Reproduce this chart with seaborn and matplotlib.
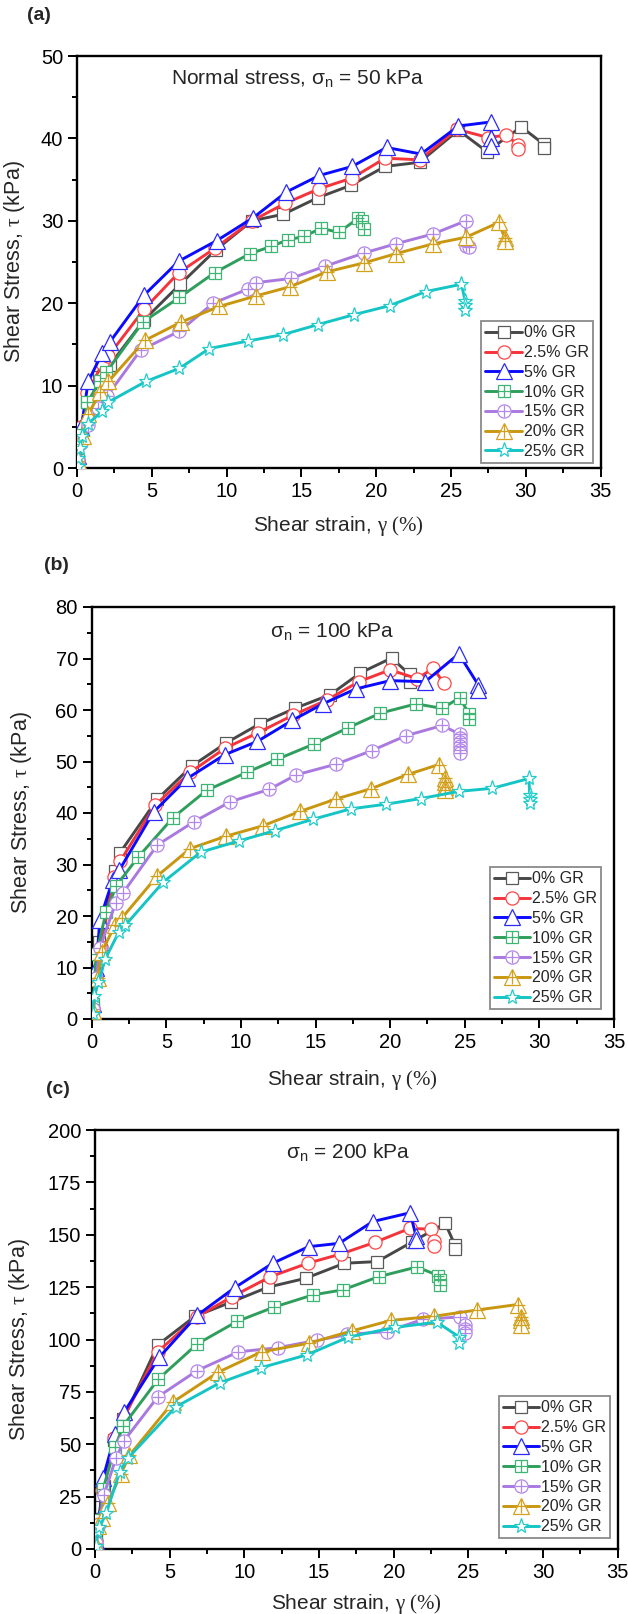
import matplotlib
matplotlib.use("Agg")
import matplotlib.pyplot as plt
from matplotlib.ticker import MultipleLocator
from matplotlib.lines import Line2D
import seaborn as sns

sns.set_theme(style="ticks")
plt.rcParams["font.family"] = ["Liberation Sans", "DejaVu Sans"]
plt.rcParams["mathtext.fontset"] = "custom"
plt.rcParams["mathtext.rm"] = "Liberation Serif"
plt.rcParams["mathtext.sf"] = "Liberation Sans"
plt.rcParams["mathtext.it"] = "Liberation Serif:italic"

# ---------------- data ----------------
labels = ["0% GR", "2.5% GR", "5% GR", "10% GR", "15% GR", "20% GR", "25% GR"]

# panel (a) : sigma_n = 50 kPa
a_x_0 = [0.1, 0.3, 0.7, 1.5, 2.2, 4.5, 6.9, 9.3, 11.7, 13.8, 16.1, 18.3, 20.6, 22.9, 25.5, 27.4, 29.7, 31.2, 31.2]
a_y_0 = [1.0, 4.0, 8.0, 11.0, 12.5, 18.0, 22.3, 26.5, 30.0, 30.8, 32.8, 34.3, 36.6, 37.1, 41.0, 38.4, 41.4, 39.3, 38.8]
a_x_1 = [0.1, 0.3, 0.7, 1.7, 2.1, 4.5, 6.8, 9.25, 11.7, 13.9, 16.2, 18.4, 20.6, 22.9, 25.4, 27.5, 28.7, 29.5, 29.5]
a_y_1 = [1.0, 5.0, 9.1, 12.7, 13.6, 19.3, 23.7, 26.7, 30.0, 32.1, 33.9, 35.2, 37.6, 37.4, 41.1, 40.1, 40.4, 39.2, 38.7]
a_x_2 = [0.1, 0.3, 0.75, 1.7, 2.2, 4.5, 6.8, 9.35, 11.8, 14.0, 16.2, 18.4, 20.7, 23.0, 25.5, 27.7, 27.7, 27.7]
a_y_2 = [1.5, 5.0, 10.5, 14.0, 15.3, 21.0, 25.1, 27.6, 30.4, 33.5, 35.5, 36.6, 38.9, 38.1, 41.5, 42.0, 40.0, 39.1]
a_x_3 = [0.1, 0.3, 0.7, 1.55, 1.95, 4.4, 6.85, 9.2, 11.55, 13.0, 14.1, 15.2, 16.3, 17.5, 18.8, 19.05, 19.2]
a_y_3 = [1.0, 4.0, 8.0, 10.6, 11.6, 17.7, 20.7, 23.7, 26.0, 26.9, 27.7, 28.1, 29.1, 28.6, 30.3, 30.0, 29.0]
a_x_4 = [0.1, 0.3, 0.75, 1.4, 2.0, 4.25, 6.85, 9.1, 11.4, 12.0, 14.3, 16.6, 19.2, 21.3, 23.8, 26.0, 26.0, 26.2]
a_y_4 = [0.8, 3.0, 5.2, 7.3, 8.7, 14.3, 16.6, 20.0, 21.7, 22.5, 23.0, 24.5, 26.1, 27.2, 28.4, 30.0, 26.9, 26.8]
a_x_5 = [0.1, 0.4, 0.75, 1.55, 2.1, 4.55, 6.95, 9.5, 12.0, 14.25, 16.7, 19.2, 21.3, 23.8, 26.0, 28.2, 28.6, 28.6]
a_y_5 = [0.8, 3.9, 6.5, 9.2, 10.5, 15.5, 17.7, 19.6, 20.9, 22.0, 23.8, 24.9, 26.0, 27.2, 28.0, 29.8, 27.9, 27.5]
a_x_6 = [0.05, 0.1, 0.2, 0.35, 0.75, 1.7, 2.1, 4.6, 6.85, 8.85, 11.4, 13.8, 16.1, 18.5, 20.9, 23.3, 25.7, 25.95, 25.95, 25.95]
a_y_6 = [0.3, 1.2, 2.4, 3.9, 5.4, 6.9, 8.0, 10.5, 12.1, 14.5, 15.4, 16.2, 17.4, 18.6, 19.7, 21.4, 22.3, 20.3, 19.8, 19.2]

# panel (b) : sigma_n = 100 kPa
b_x_0 = [0.1, 0.3, 0.5, 1.55, 1.9, 4.4, 6.7, 9.0, 11.25, 13.6, 16.0, 18.0, 20.1, 21.3, 21.3]
b_y_0 = [2.0, 9.0, 15.0, 28.7, 32.3, 42.7, 49.1, 53.6, 57.3, 60.3, 63.0, 67.2, 70.1, 66.9, 65.5]
b_x_1 = [0.1, 0.3, 0.6, 1.5, 1.9, 4.25, 6.6, 8.95, 11.15, 13.5, 15.8, 17.9, 20.0, 21.8, 22.9, 23.6]
b_y_1 = [2.0, 8.0, 14.0, 27.6, 30.6, 41.5, 47.9, 52.6, 55.6, 59.0, 62.0, 65.5, 67.8, 66.1, 68.1, 65.2]
b_x_2 = [0.1, 0.3, 0.55, 1.4, 1.85, 4.15, 6.4, 8.9, 11.1, 13.45, 15.5, 17.7, 20.0, 22.35, 24.6, 25.9, 25.9]
b_y_2 = [3.0, 10.0, 19.3, 26.9, 28.9, 40.2, 46.7, 51.3, 53.9, 58.0, 61.2, 64.1, 65.7, 65.5, 70.9, 64.9, 63.9]
b_x_3 = [0.1, 0.3, 0.97, 1.65, 3.1, 5.45, 7.7, 10.4, 12.4, 14.9, 17.15, 19.35, 21.75, 23.5, 24.65, 25.3, 25.3]
b_y_3 = [3.0, 12.6, 20.8, 25.9, 31.4, 39.1, 44.4, 47.9, 50.4, 53.4, 56.5, 59.4, 61.2, 60.3, 62.4, 59.2, 58.3]
b_x_4 = [0.1, 0.3, 0.55, 1.6, 2.1, 4.4, 6.85, 9.3, 11.9, 13.7, 16.4, 18.75, 21.05, 23.5, 24.65, 24.65, 24.65, 24.65, 24.65, 24.65]
b_y_4 = [2.0, 8.0, 13.8, 22.5, 24.5, 33.8, 38.3, 42.2, 44.6, 47.4, 49.5, 52.1, 55.0, 57.0, 55.3, 54.5, 53.8, 53.0, 52.3, 51.6]
b_x_5 = [0.1, 0.4, 0.7, 1.55, 2.05, 4.4, 6.6, 9.0, 11.45, 13.95, 16.35, 18.7, 21.2, 23.25, 23.65, 23.65, 23.65, 23.65]
b_y_5 = [1.5, 8.0, 13.1, 18.2, 19.7, 27.8, 33.1, 35.5, 37.5, 40.3, 42.7, 44.7, 47.5, 49.4, 46.7, 46.0, 45.0, 44.4]
b_x_6 = [0.1, 0.15, 0.45, 0.9, 1.8, 2.25, 4.8, 7.3, 9.9, 12.3, 14.85, 17.35, 19.7, 22.05, 24.6, 26.85, 29.3, 29.35, 29.35, 29.35]
b_y_6 = [1.0, 4.4, 7.1, 11.6, 16.8, 18.2, 26.6, 32.4, 34.6, 36.6, 38.8, 40.8, 41.7, 42.8, 44.2, 44.8, 46.7, 43.4, 42.8, 42.0]

# panel (c) : sigma_n = 200 kPa
c_x_0 = [0.1, 0.3, 0.6, 1.3, 1.9, 4.2, 6.7, 9.1, 11.6, 14.1, 16.7, 18.9, 21.2, 23.45, 24.1, 24.1]
c_y_0 = [5.0, 20.0, 30.0, 52.0, 62.0, 97.4, 111.1, 117.8, 125.0, 129.2, 136.4, 137.2, 146.4, 155.5, 145.1, 143.1]
c_x_1 = [0.1, 0.2, 0.5, 1.3, 1.95, 4.2, 6.8, 9.2, 11.75, 14.25, 16.5, 18.75, 21.1, 22.5, 22.7, 22.7]
c_y_1 = [4.0, 12.0, 28.0, 53.0, 63.1, 94.1, 110.8, 120.5, 130.0, 136.4, 140.9, 146.4, 153.1, 152.6, 146.8, 144.8]
c_x_2 = [0.1, 0.3, 0.55, 1.35, 1.95, 4.3, 6.85, 9.35, 11.9, 14.3, 16.35, 18.6, 21.1, 21.5, 21.5]
c_y_2 = [4.0, 15.0, 34.1, 54.7, 65.3, 91.5, 111.6, 124.7, 136.4, 144.3, 145.9, 156.3, 160.5, 149.3, 147.6]
c_x_3 = [0.1, 0.3, 0.55, 1.35, 1.9, 4.25, 6.85, 9.5, 12.0, 14.6, 16.6, 19.0, 21.55, 23.0, 23.1, 23.1]
c_y_3 = [3.0, 14.0, 28.8, 48.9, 58.9, 81.2, 97.9, 108.6, 115.5, 121.3, 123.7, 130.0, 134.6, 130.5, 128.4, 126.2]
c_x_4 = [0.1, 0.3, 0.6, 1.4, 1.95, 4.2, 6.85, 9.6, 12.25, 14.85, 16.9, 19.55, 21.95, 24.45, 24.75, 24.75, 24.75]
c_y_4 = [3.0, 12.0, 25.9, 43.3, 51.7, 72.6, 85.2, 94.1, 96.1, 99.6, 102.4, 103.8, 109.6, 110.8, 107.1, 105.2, 103.3]
c_x_5 = [0.1, 0.2, 0.45, 0.85, 1.75, 2.3, 5.25, 8.25, 11.15, 14.3, 17.2, 19.8, 22.7, 25.6, 28.3, 28.55, 28.55, 28.55]
c_y_5 = [2.0, 11.2, 14.6, 21.8, 36.0, 44.7, 70.3, 84.4, 94.1, 98.2, 104.1, 109.1, 111.1, 114.1, 116.7, 110.8, 109.1, 107.1]
c_x_6 = [0.1, 0.15, 0.3, 0.75, 1.65, 2.2, 5.4, 8.35, 11.1, 14.2, 16.95, 20.1, 22.9, 24.4, 24.4]
c_y_6 = [1.2, 8.7, 10.4, 17.1, 36.7, 43.3, 67.8, 79.3, 86.5, 92.7, 101.1, 105.8, 108.3, 101.1, 98.2]

panel_a = [(a_x_0, a_y_0), (a_x_1, a_y_1), (a_x_2, a_y_2), (a_x_3, a_y_3), (a_x_4, a_y_4), (a_x_5, a_y_5), (a_x_6, a_y_6)]
panel_b = [(b_x_0, b_y_0), (b_x_1, b_y_1), (b_x_2, b_y_2), (b_x_3, b_y_3), (b_x_4, b_y_4), (b_x_5, b_y_5), (b_x_6, b_y_6)]
panel_c = [(c_x_0, c_y_0), (c_x_1, c_y_1), (c_x_2, c_y_2), (c_x_3, c_y_3), (c_x_4, c_y_4), (c_x_5, c_y_5), (c_x_6, c_y_6)]

# ---------------- styles ----------------
line_colors = ["#474747", "#f5333a", "#0a0aff", "#2f9e5c", "#a979e0", "#c8960f", "#15c4c4"]
mark_colors = ["#5a5a5a", "#ff4646", "#2a2aff", "#3fb573", "#b286ea", "#d3a11e", "#22cccc"]
markers = ["s", "o", "^", "s", "o", "^", "*"]
msizes = [9, 9.5, 11, 9, 9.5, 11, 11]
overlay_plus = [False, False, False, True, True, True, False]
LW = 2.1

W, H = 628, 1614
fig = plt.figure(figsize=(W / 100, H / 100), dpi=100)


def make_axes(l, r, t, b):
    return fig.add_axes([l / W, (H - b) / H, (r - l) / W, (b - t) / H])


axes_specs = [
    dict(box=(77, 600.5, 56, 468), data=panel_a, ymax=50, ymaj=10, title=r"Normal stress, $\mathsf{\sigma_n}$ = 50 kPa",
         title_xy=(297, 79), tag="(a)", tag_xy=(39, 16), ylab_x=-0.096, xlab_y=-0.112,
         leg_anchor=(0.985, 0.012)),
    dict(box=(91.7, 614, 607, 1019), data=panel_b, ymax=80, ymaj=10, title=r"$\mathsf{\sigma_n}$ = 100 kPa",
         title_xy=(332, 632), tag="(b)", tag_xy=(56, 566), ylab_x=-0.11, xlab_y=-0.118,
         leg_anchor=(0.975, 0.024)),
    dict(box=(95, 617.7, 1130, 1549), data=panel_c, ymax=200, ymaj=25, title=r"$\mathsf{\sigma_n}$ = 200 kPa",
         title_xy=(348, 1153), tag="(c)", tag_xy=(58, 1089), ylab_x=-0.12, xlab_y=-0.102,
         leg_anchor=(0.985, 0.026)),
]

for spec in axes_specs:
    ax = make_axes(*spec["box"])
    for i, (xs, ys) in enumerate(spec["data"]):
        sns.lineplot(x=xs, y=ys, ax=ax, estimator=None, sort=False, color=line_colors[i], linewidth=LW,
                     marker=markers[i], markersize=msizes[i], markerfacecolor="white",
                     markeredgecolor=mark_colors[i], markeredgewidth=0.9, zorder=2 + i)
        if overlay_plus[i]:
            ax.plot(xs, ys, linestyle="none", marker="+", markersize=msizes[i] - 0.5,
                    markeredgecolor=mark_colors[i], markeredgewidth=0.9, zorder=2 + i)
    ax.set_xlim(0, 35)
    ax.set_ylim(0, spec["ymax"])
    ax.xaxis.set_major_locator(MultipleLocator(5))
    ax.xaxis.set_minor_locator(MultipleLocator(2.5))
    ax.yaxis.set_major_locator(MultipleLocator(spec["ymaj"]))
    ax.yaxis.set_minor_locator(MultipleLocator(spec["ymaj"] / 2))
    ax.tick_params(which="both", direction="out", top=False, right=False, width=1.4, colors="black",
                   labelsize=14.5)
    ax.tick_params(which="major", length=6.5)
    ax.tick_params(which="minor", length=3.5)
    for s in ax.spines.values():
        s.set_linewidth(1.7)
        s.set_color("black")
        s.set_visible(True)
    ax.set_xlabel(r"Shear strain, $\mathrm{\gamma\ (\%)}$", fontsize=15)
    ax.set_ylabel(r"Shear Stress, $\mathrm{\tau}$ (kPa)", fontsize=15.5)
    ax.yaxis.set_label_coords(spec["ylab_x"], 0.5)
    ax.xaxis.set_label_coords(0.5, spec["xlab_y"])
    tx, ty = spec["title_xy"]
    fig.text(tx / W, 1 - ty / H, spec["title"], fontsize=15, ha="center", va="center")
    gx, gy = spec["tag_xy"]
    fig.text(gx / W, 1 - gy / H, spec["tag"], fontsize=14, fontweight="bold", ha="center", va="center")

    handles = []
    for i in range(7):
        base = Line2D([], [], color=line_colors[i], linewidth=LW, marker=markers[i], markersize=msizes[i],
                      markerfacecolor="white", markeredgecolor=mark_colors[i], markeredgewidth=0.9)
        if overlay_plus[i]:
            plus = Line2D([], [], linestyle="none", marker="+", markersize=msizes[i] - 0.5,
                          markeredgecolor=mark_colors[i], markeredgewidth=0.9)
            handles.append((base, plus))
        else:
            handles.append(base)
    leg = ax.legend(handles, labels, loc="lower right", bbox_to_anchor=spec["leg_anchor"], fontsize=11.5,
                    frameon=True, fancybox=False, framealpha=1, edgecolor="#8a8a8a", handlelength=2.3,
                    handletextpad=0.1, borderpad=0.25, labelspacing=0.3, borderaxespad=0.0)
    leg.get_frame().set_linewidth(1.3)

fig.savefig("out.png", dpi=100)
